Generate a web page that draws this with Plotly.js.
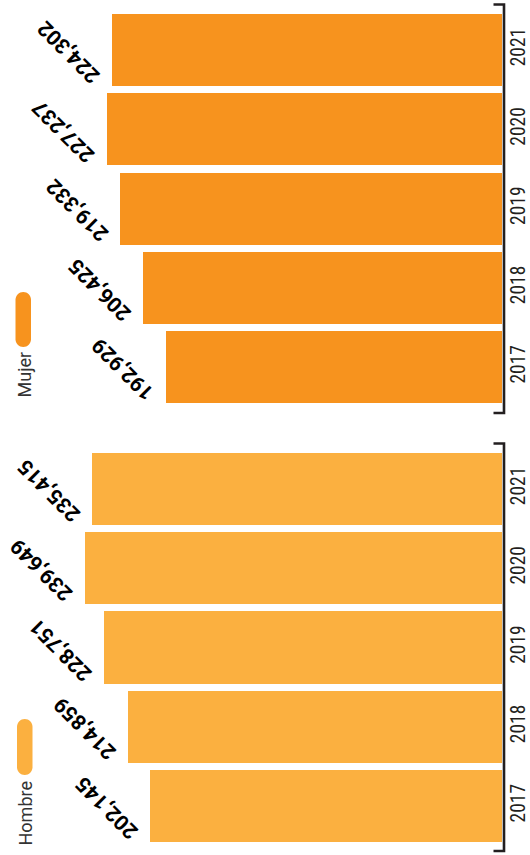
<!DOCTYPE html>
<html>
<head>
<meta charset="utf-8">
<script src="https://cdn.plot.ly/plotly-3.0.1.min.js"></script>
<style>
html,body{margin:0;padding:0;background:#fff;}
#chart{width:530px;height:855px;}
</style>
</head>
<body>
<div id="chart"></div>
<script>
// ---- data ----
const years = ['2017', '2018', '2019', '2020', '2021'];
const mujer = [192929, 206425, 219332, 227237, 224302];
const hombre = [202145, 214859, 228751, 239649, 235415];
const seriesNames = ['Mujer', 'Hombre'];

// ---- style ----
const W = 530, H = 855, ML = 0, MR = 28;
const PW = W - ML - MR;
const colMujer = '#F7931E';
const colHombre = '#FBB040';
const px = v => (v - ML) / PW;
const py = v => 1 - v / H;
const fmt = v => v.toLocaleString('en-US');
const yearNum = years.map(Number);

const traces = [
  { type: 'bar', orientation: 'h', y: yearNum, x: mujer, xaxis: 'x', yaxis: 'y',
    marker: { color: colMujer }, width: 0.908, name: seriesNames[0], hoverinfo: 'none' },
  { type: 'bar', orientation: 'h', y: yearNum, x: hombre, xaxis: 'x', yaxis: 'y2',
    marker: { color: colHombre }, width: 0.908, name: seriesNames[1], hoverinfo: 'none' }
];

const valFont = { family: 'Roboto, "Liberation Sans", Arial, sans-serif', size: 21, color: '#000', weight: 'bold' };
const annotations = [];
function addVals(vals, yref) {
  vals.forEach((v, i) => {
    annotations.push({ x: v, y: yearNum[i], xref: 'x', yref: yref, text: fmt(v), showarrow: false,
      textangle: -135, xanchor: 'center', yanchor: 'middle', xshift: -43, yshift: -2, font: valFont });
  });
}
addVals(mujer, 'y');
addVals(hombre, 'y2');

const legFont = { family: 'Roboto, "Liberation Sans", Arial, sans-serif', size: 18, color: '#333' };
annotations.push({ xref: 'paper', yref: 'paper', x: px(23.5), y: py(375), text: seriesNames[0], showarrow: false,
  textangle: -90, xanchor: 'center', yanchor: 'middle', font: legFont });
annotations.push({ xref: 'paper', yref: 'paper', x: px(24.5), y: py(814), text: seriesNames[1], showarrow: false,
  textangle: -90, xanchor: 'center', yanchor: 'middle', font: legFont });

function pill(L, T, R, B, color) {
  const r = (R - L) / 2, cx = (L + R) / 2, k = 0.5523 * r;
  const P = (x, y) => px(x) + ',' + py(y);
  const d = 'M' + P(L, T + r) +
    ' C' + P(L, T + r - k) + ' ' + P(cx - k, T) + ' ' + P(cx, T) +
    ' C' + P(cx + k, T) + ' ' + P(R, T + r - k) + ' ' + P(R, T + r) +
    ' L' + P(R, B - r) +
    ' C' + P(R, B - r + k) + ' ' + P(cx + k, B) + ' ' + P(cx, B) +
    ' C' + P(cx - k, B) + ' ' + P(L, B - r + k) + ' ' + P(L, B - r) + ' Z';
  return { type: 'path', xref: 'paper', yref: 'paper', path: d, fillcolor: color, line: { width: 0 } };
}
function bracket(T, B) {
  const P = (x, y) => px(x) + ',' + py(y);
  return { type: 'path', xref: 'paper', yref: 'paper',
    path: 'M' + P(493.5, T) + ' L' + P(504, T) + ' L' + P(504, B) + ' L' + P(493.5, B),
    line: { color: '#231f20', width: 2.6 } };
}

const shapes = [
  pill(15.5, 292, 31, 347, colMujer),
  pill(17, 719, 32.5, 775, colHombre),
  bracket(4.5, 413),
  bracket(443.5, 851)
];

const tickFont = { family: '"Liberation Sans Narrow", "Roboto Condensed", "DejaVu Sans Condensed", sans-serif', size: 19.5, color: '#231f20' };
const yax = (dom) => ({
  type: 'linear', tickmode: 'array', tickvals: yearNum, ticktext: years,
  range: [2016.42, 2021.58], domain: dom, side: 'right', anchor: 'x',
  showline: false, showgrid: false, zeroline: false, ticks: '',
  tickangle: -90, tickfont: tickFont, ticklabelstandoff: 2, automargin: false, fixedrange: true
});

const layout = {
  width: W, height: H,
  margin: { l: ML, r: MR, t: 0, b: 0, pad: 0 },
  paper_bgcolor: '#fff', plot_bgcolor: '#fff',
  showlegend: false,
  bargap: 0,
  xaxis: { range: [288500, 0], visible: false, showgrid: false, zeroline: false, anchor: 'y', fixedrange: true },
  yaxis: yax([0.51673, 0.99532]),
  yaxis2: yax([0.00339, 0.48199]),
  annotations: annotations,
  shapes: shapes
};

Plotly.newPlot('chart', traces, layout, { displayModeBar: false, staticPlot: true });
</script>
</body>
</html>
